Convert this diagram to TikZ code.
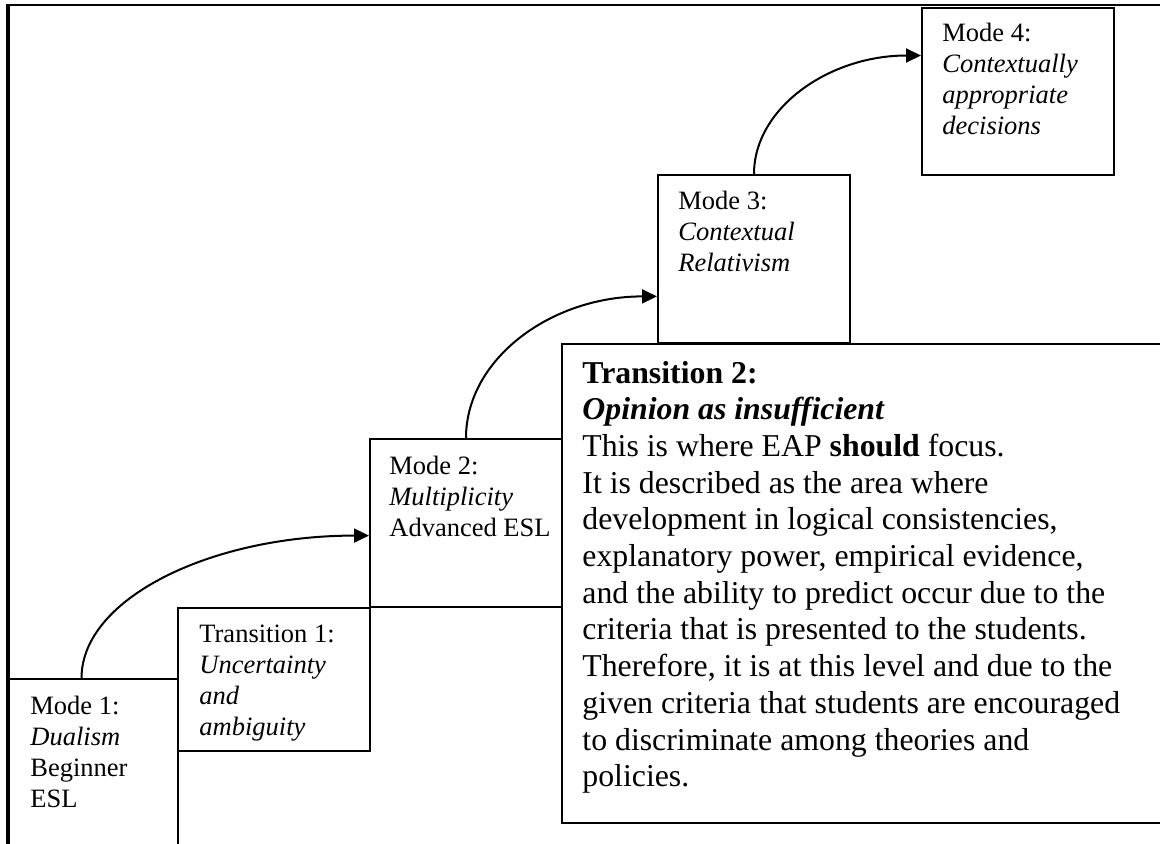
\documentclass[tikz,border=0pt]{standalone}
\usepackage{fontspec}
\setmainfont{Liberation Serif}
\usepackage{tikz}
\usetikzlibrary{arrows.meta, calc}

\newcommand{\stagesize}{\fontsize{13.25pt}{15.5pt}\selectfont}
\newcommand{\notesize}{\fontsize{15.9pt}{18.35pt}\selectfont}
\newcommand{\lines}[1]{\begin{tabular}[t]{@{}l@{}}#1\end{tabular}}

\tikzset{
    stage/.style={draw, line width=1pt, fill=white, anchor=north west, inner sep=0pt,
        minimum width=96pt, minimum height=84pt},
    stagetext/.style={anchor=base west, inner sep=0pt, font=\stagesize},
    flow/.style={line width=1pt, -{Triangle[length=7.5pt, width=7pt]}},
}

\begin{document}
\begin{tikzpicture}[x=0.5pt, y=-0.5pt]
        \useasboundingbox (0,0) rectangle (1160,844);
        \clip (0,0) rectangle (1160,844);

        \draw[line width=1.2pt] (7,5) -- (1170,5);

        \node[stage, minimum width=84.5pt, minimum height=130pt] (m1) at (8,678) {};
        \node[stage] (m2) at (369,438) {};
        \node[stage, minimum height=71.5pt] (t1) at (177,607) {};
        \node[stage] (m3) at (657,174) {};
        \node[stage, minimum height=83.5pt] (m4) at (921,7) {};
        \node[stage, minimum width=320pt, minimum height=239.5pt] (t2) at (561,343) {};

        \draw[line width=1.7pt] (8,4) -- (8,900);

        \node[stagetext] (m1text) at ([shift={(22,36)}]m1.north west) {\lines{Mode 1:\\ \textit{Dualism}\\ Beginner\\ ESL}};
        \node[stagetext] (t1text) at ([shift={(22,35)}]t1.north west) {\lines{Transition 1:\\ \textit{Uncertainty}\\ \textit{and}\\ \textit{ambiguity}}};
        \node[stagetext] (m2text) at ([shift={(20,36)}]m2.north west) {\lines{Mode 2:\\ \textit{Multiplicity}\\ Advanced ESL}};
        \node[stagetext] (m3text) at ([shift={(21,36)}]m3.north west) {\lines{Mode 3:\\ \textit{Contextual}\\ \textit{Relativism}}};
        \node[stagetext] (m4text) at ([shift={(21,35)}]m4.north west) {\lines{Mode 4:\\ \textit{Contextually}\\ \textit{appropriate}\\ \textit{decisions}}};
        \node[stagetext, font=\notesize] (t2text) at ([shift={(21,40)}]t2.north west) {\lines{\textbf{Transition 2:}\\
            \textbf{\textit{Opinion as insufficient}}\\
            This is where EAP \textbf{should} focus.\\
            It is described as the area where\\
            development in logical consistencies,\\
            explanatory power, empirical evidence,\\
            and the ability to predict occur due to the\\
            criteria that is presented to the students.\\
            Therefore, it is at this level and due to the\\
            given criteria that students are encouraged\\
            to discriminate among theories and\\
            policies.}};

        \draw[flow] ($(m1.north west)!0.43!(m1.north east)$) to[out=90, in=180, out distance=39.5pt, in distance=79.5pt] ($(m2.north west)!0.574!(m2.south west)$);
        \draw[flow] (m2.north) to[out=90, in=180, out distance=39.5pt, in distance=53pt] ($(m3.north west)!0.72!(m3.south west)$);
        \draw[flow] (m3.north) to[out=90, in=180, out distance=33pt, in distance=46pt] ($(m4.north west)!0.287!(m4.south west)$);
    \end{tikzpicture}
\end{document}
